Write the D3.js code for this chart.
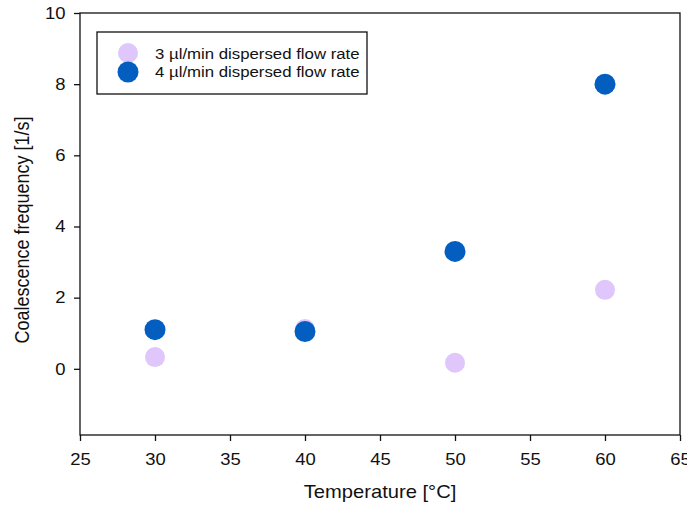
<!DOCTYPE html>
<html>
<head>
<meta charset="utf-8">
<script src="https://cdn.jsdelivr.net/npm/d3@7"></script>
<style>
  body { margin: 0; background: #fff; }
  text { font-family: Arial, "Liberation Sans", sans-serif; fill: #111; }
</style>
</head>
<body>
<div id="chart"></div>
<script>
// data
var temps      = [30, 40, 50, 60];
var flow3      = [0.33, 1.12, 0.17, 2.22];
var flow4      = [1.1, 1.05, 3.3, 8.0];
var seriesNames = ["3 \u00b5l/min dispersed flow rate", "4 \u00b5l/min dispersed flow rate"];
var xTicks     = [25, 30, 35, 40, 45, 50, 55, 60, 65];
var yTicks     = [0, 2, 4, 6, 8, 10];

var width  = 687,
    height = 506;
var plotL = 80, plotR = 680, plotT = 13, plotB = 435;
var stretch = 1.12;   // the reference text is a bit wide

var svg = d3.select("#chart")
    .append("svg")
    .attr("width", width)
    .attr("height", height);

var x = d3.scaleLinear().domain([25, 65]).range([plotL, plotR]);
var y = d3.scaleLinear().domain([-1.86, 10]).range([plotB, plotT]);

//frame
svg.append("rect")
    .attr("x", plotL).attr("y", plotT)
    .attr("width", plotR - plotL).attr("height", plotB - plotT)
    .attr("fill", "none")
    .attr("stroke", "#111")
    .attr("stroke-width", 1.3);

var xAxis = svg.append("g")
    .attr("transform", "translate(0," + plotB + ")")
    .call(d3.axisBottom(x).tickValues(xTicks).tickSize(6).tickPadding(12));

var yAxis = svg.append("g")
    .attr("transform", "translate(" + plotL + ",0)")
    .call(d3.axisLeft(y).tickValues(yTicks).tickSize(6).tickPadding(7));

[xAxis, yAxis].forEach(function(a) {
    a.select(".domain").remove();
    a.selectAll("line").attr("stroke", "#111").attr("stroke-width", 1.3);
    a.selectAll("text").attr("font-size", "16.5px").attr("fill", "#111")
        .attr("transform", "scale(" + stretch + ",1)")
        .style("font-family", "Arial, 'Liberation Sans', sans-serif");
});

svg.append("text")
    .attr("transform", "translate(" + ((plotL + plotR) / 2) + ",498) scale(" + stretch + ",1)")
    .attr("text-anchor", "middle")
    .attr("font-size", "18px")
    .text("Temperature [\u00b0C]");

svg.append("text")
    .attr("transform", "translate(29," + ((plotT + plotB) / 2 + 6) + ") scale(" + stretch + ",1) rotate(-90)")
    .attr("text-anchor", "middle")
    .attr("font-size", "18px")
    .text("Coalescence frequency [1/s]");

var colors = ["#dfc6fb", "#035ec0"];
var radius = [10, 10.5];

[flow3, flow4].forEach(function(vals, s) {
    svg.append("g").selectAll("circle")
        .data(vals)
        .enter()
        .append("circle")
        .attr("cx", function(d, i) { return x(temps[i]); })
        .attr("cy", function(d) { return y(d); })
        .attr("r", radius[s])
        .attr("fill", colors[s]);
});

//legend
var legend = svg.append("g");
legend.append("rect")
    .attr("x", 97).attr("y", 32)
    .attr("width", 270).attr("height", 62)
    .attr("fill", "#fff")
    .attr("stroke", "#111")
    .attr("stroke-width", 1.3);

seriesNames.forEach(function(name, s) {
    var cy = 53 + s * 19;
    legend.append("circle")
        .attr("cx", 128).attr("cy", cy)
        .attr("r", radius[s])
        .attr("fill", colors[s]);
    legend.append("text")
        .attr("transform", "translate(155," + (59 + s * 18) + ") scale(" + stretch + ",1)")
        .attr("font-size", "15px")
        .text(name);
});
</script>
</body>
</html>
